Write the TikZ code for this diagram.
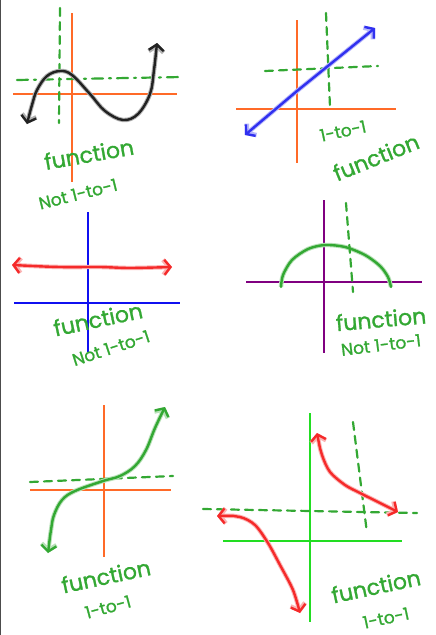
\documentclass[tikz,border=0pt]{standalone}
\usepackage{fontspec}
\setmainfont{Poppins}[FakeBold=1.2]
\usetikzlibrary{arrows.meta}
\definecolor{axisorange}{HTML}{FF6A28}
\definecolor{hand}{HTML}{33A833}
\definecolor{penblue}{HTML}{3030F0}
\definecolor{penred}{HTML}{F52A2A}
\definecolor{penblack}{HTML}{222222}
\definecolor{axispurple}{HTML}{800080}
\definecolor{axislime}{HTML}{22DD22}
\definecolor{axisblue}{HTML}{1010F0}
\begin{document}
\begin{tikzpicture}[x=1pt, y=-1pt, >={Straight Barb[length=6pt,width=15pt]},
      axis/.style={draw=#1, line width=1.6pt},
      pen/.style={draw=#1, line width=2.4pt, line cap=round, line join=round,
                  preaction={draw=#1!35, line width=4.4pt}},
      guide/.style={draw=hand, line width=2.2pt, line cap=round, dash pattern=on 8pt off 6pt},
      guidedot/.style={draw=hand, line width=2.2pt, line cap=round,
                       dash pattern=on 11pt off 6pt on 2pt off 6pt},
      lbl/.style={text=hand, font=\fontsize{22}{22}\selectfont, inner sep=0pt},
      sublbl/.style={text=hand, font=\fontsize{17}{17}\selectfont, inner sep=0pt}]
    \useasboundingbox (0,0) rectangle (436,635);
    \fill[white] (0,0) rectangle (436,635);
    \draw[black!70, line width=1.4pt] (0.7,0) -- (0.7,635);

    % cubic
    \draw[axis=axisorange] (72,13) -- (72,182);
    \draw[axis=axisorange] (13,94) -- (177,94);
    \draw[guide] (60,8) -- (59,123);
    \draw[guidedot] (17,80) -- (182,77);
    \draw[pen=penblack, <->] plot[smooth, tension=0.6] coordinates
      {(27,124) (32,105) (37,90) (47,76) (60,71) (72,75) (90,94) (105,111)
       (123,120) (138,114) (150,94) (154,70) (157,43)};
    \node[lbl, rotate=10] (cubicfn) at (89,154) {function};
    \node[sublbl, rotate=14] (cubicnot) at (78,194) {Not 1-to-1};

    % line
    \draw[axis=axisorange] (297,20) -- (297,163);
    \draw[axis=axisorange] (236,109) -- (396,109);
    \draw[guide] (326,13) -- (330,107);
    \draw[guide] (265,71) -- (378,66);
    \draw[pen=penblue, <->] (245,135) -- (297,91) -- (375,28);
    \node[sublbl, rotate=12] (lineone) at (343,131) {1-to-1};
    \node[lbl, rotate=22] (linefn) at (376,157) {function};

    % constant
    \draw[axis=axisblue] (88,212) -- (88,352);
    \draw[axis=axisblue] (14,303) -- (180,303);
    \draw[pen=penred, <->] plot[smooth] coordinates
      {(12,265) (60,267) (100,267) (130,268) (172,267)};
    \node[lbl, rotate=12] (constfn) at (98,319) {function};
    \node[sublbl, rotate=18] (constnot) at (111,348) {Not 1-to-1};

    % semicircle
    \draw[axis=axispurple] (324,200) -- (324,353);
    \draw[axis=axispurple] (246,282) -- (422,282);
    \draw[pen=hand] plot[smooth] coordinates
      {(281,287) (283,275) (292,260) (308,249) (325,245) (345,247)
       (365,255) (380,266) (388,277) (391,287)};
    \draw[guide] (346,203) -- (353,292);
    \node[lbl, rotate=5] (semifn) at (381,319) {function};
    \node[sublbl, rotate=7] (seminot) at (381,345) {Not 1-to-1};

    % cube-root like
    \draw[axis=axisorange] (104,405) -- (104,557);
    \draw[axis=axisorange] (30,490) -- (171,490);
    \draw[guide] (30,482) -- (173,476);
    \draw[pen=hand, <->] plot[smooth, tension=0.6] coordinates
      {(48,553) (51,530) (54,515) (62,500) (75,491) (103,481) (120,476)
       (135,466) (146,450) (155,428) (165,407)};
    \node[lbl, rotate=12] (cubefn) at (106,576) {function};
    \node[sublbl, rotate=15] (cubeone) at (108,607) {1-to-1};

    % hyperbola
    \draw[axis=axislime] (310,413) -- (310,622);
    \draw[axis=axislime] (223,541) -- (402,541);
    \draw[guide] (203,509) -- (417,513);
    \draw[guide] (353,422) -- (367,533);
    \draw[pen=penred, <->] plot[smooth] coordinates
      {(317,433) (322,455) (330,472) (345,485) (360,493) (380,503) (398,512)};
    \draw[pen=penred, <->] plot[smooth] coordinates
      {(217,516) (240,517) (255,525) (268,543) (280,565) (293,590) (300,613)};
    \node[lbl, rotate=12] (hypfn) at (376,586) {function};
    \node[sublbl, rotate=12] (hypone) at (386,618) {1-to-1};
  \end{tikzpicture}
\end{document}
